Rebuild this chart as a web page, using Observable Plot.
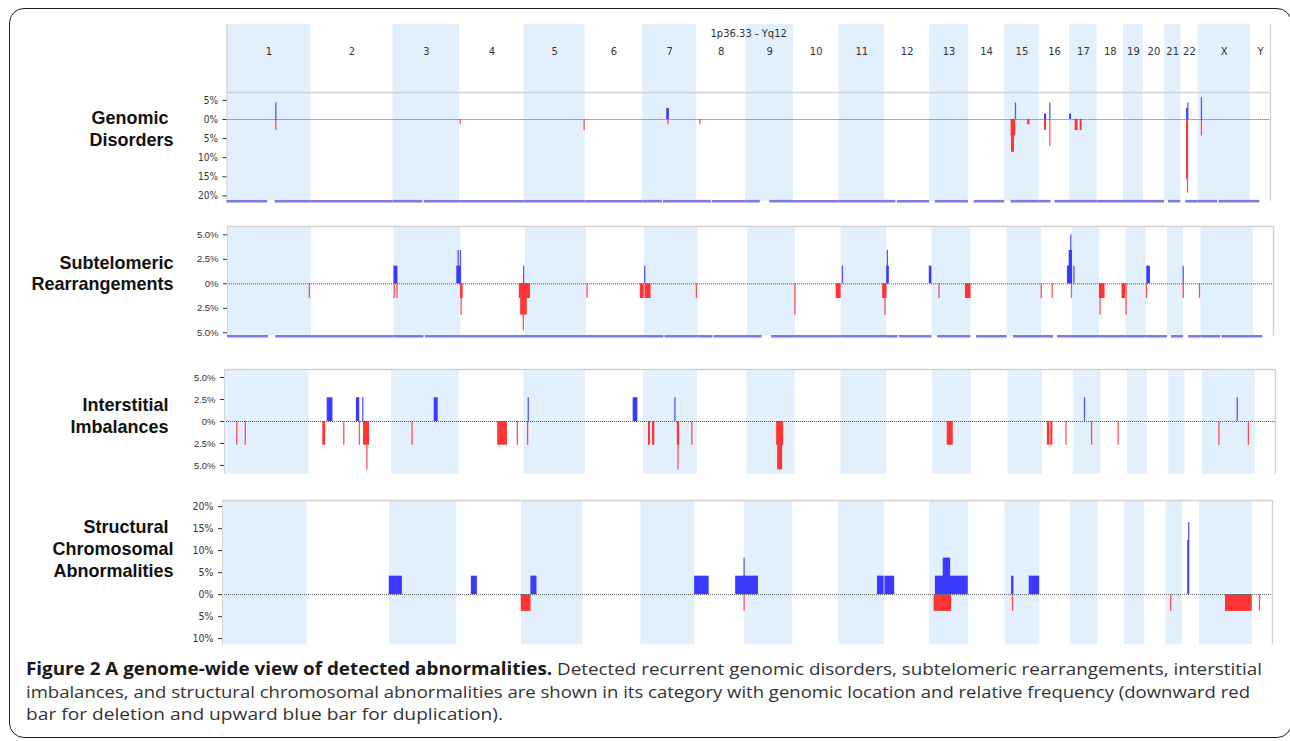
<!DOCTYPE html>
<html>
<head>
<meta charset="utf-8">
<script src="https://cdn.jsdelivr.net/npm/d3@7"></script>
<script src="https://cdn.jsdelivr.net/npm/@observablehq/plot@0.6"></script>
<style>
  html, body { margin: 0; padding: 0; background: #fff; }
  #fig { position: relative; width: 1290px; height: 741px; overflow: hidden; background: #fff; }
  #border { position: absolute; left: 9px; top: 8px; width: 1283px; height: 730px; box-sizing: border-box;
            border: 1.6px solid #1e1e1e; border-radius: 15px; }
  .panel { position: absolute; left: 0; }
  .panel svg { display: block; }
  #caption { position: absolute; left: 26px; top: 658px; font-family: "Open Sans", "Liberation Sans", sans-serif;
             font-size: 17px; line-height: 22.7px; color: #333; }
  #caption .cl { white-space: nowrap; height: 22.7px; }
  #caption .cl span { display: inline-block; transform-origin: 0 50%; }
  #caption b { color: #1a1a1a; font-weight: 700; }
</style>
</head>
<body>
<div id="fig">
  <div id="border"></div>
  <div id="caption"></div>
</div>
<script>
// ---------------- data ----------------
const chromNames = ["1","2","3","4","5","6","7","8","9","10","11","12","13","14","15","16","17","18","19","20","21","22","X","Y"];
const chromLengths = [249.3, 243.2, 198.0, 191.2, 180.9, 171.1, 159.1, 146.4, 141.2, 135.5, 135.0, 133.9,
                      115.2, 107.3, 102.5, 90.4, 81.2, 78.1, 59.1, 63.0, 48.1, 51.3, 155.3, 59.4];
const shadedChroms = ["1","3","5","7","9","11","13","15","17","19","21","X"];
// regions (Mb) left out of the ideogram strip: centromeres, short arms, heterochromatin
const ideogramGaps = [["1",121,143],["3",89,93],["7",58,61],["8",44,47],["9",43,71],["12",34,38],
                      ["13",0,17],["14",0,17],["15",0,19],["16",35,47],["21",0,12],["22",0,15],["X",58,62],["Y",28,59.4]];
const genomeLabel = "1p36.33 - Yq12";
const panelTitles = ["Genomic\u00a0\nDisorders", "Subtelomeric\nRearrangements", "Interstitial\nImbalances",
                     "Structural\u00a0\nChromosomal\nAbnormalities"];

// [chromosome, start Mb, end Mb, frequency %]  (+ duplication, - deletion)
const genomicDisorders = [
  ["1",145,145,4.3], ["1",145,145,-2.9],
  ["4",1.5,1.5,-1.4],
  ["5",178,178,-2.9],
  ["7",72,78,2.9], ["7",75,75,-1.4],
  ["8",10,10,-1.4],
  ["15",20,32,-4.3], ["15",21,28,-8.6], ["15",32,32,4.3], ["15",69,74,-1.4],
  ["16",16.6,20.8,1.4], ["16",16.6,20.8,-2.9], ["16",31.5,31.5,4.3], ["16",31.5,31.5,-7.1],
  ["17",0.5,4.5,1.4], ["17",17,24,-2.9], ["17",32,36,-2.9],
  ["22",18,21,2.9], ["22",21,21,4.3], ["22",18,21,-15.7], ["22",20,20,-19.3],
  ["X",10,10,5.7], ["X",10,10,-4.3]
];
const subtelomeric = [
  ["1",242,242,-1.5],
  ["3",1,11,1.8], ["3",1,1,-1.5], ["3",9,9,-1.5],
  ["3",187,198,1.8], ["3",190,190,3.4], ["3",197,197,3.4],
  ["4",0,6,-1.5], ["4",1,1,-3.2],
  ["4",186,186,1.8], ["4",174,191.2,-1.5], ["4",178,191.2,-3.2], ["4",185,185,-4.8],
  ["5",0,14,-1.5], ["5",0,4.5,-3.2],
  ["6",1.5,1.5,-1.5], ["6",160,170,-1.5],
  ["7",1,1,1.8], ["7",3,19,-1.5], ["7",154,154,-1.5],
  ["9",140,140,-3.2],
  ["10",122,135,-1.5],
  ["11",4,4,1.8], ["11",124,135,-1.5], ["11",130,130,-3.2],
  ["12",1,7,1.8], ["12",2,2,3.4], ["12",127,133,1.8],
  ["13",21,21,-1.5], ["13",100,115,-1.5],
  ["15",101,101,-1.5],
  ["16",31,31,-1.5], ["16",77,90.4,1.8], ["16",82,90,3.4], ["16",86,86,5.0], ["16",88,88,-1.5],
  ["17",5,5,1.8],
  ["18",0,15,-1.5], ["18",1,1,-3.2], ["18",67,76,-1.5], ["18",78,78,-3.2],
  ["20",1,1,-1.5], ["20",3,12,1.8],
  ["21",47,47,1.8], ["21",47,47,-1.5],
  ["22",47,47,-1.5]
];
const interstitial = [
  ["1",36,36,-2.7], ["1",61,61,-2.7],
  ["2",41,48,-2.7], ["2",54,69,2.7], ["2",102,102,-2.7], ["2",140,148,2.7], ["2",148,148,-2.7],
  ["2",158,158,2.7], ["2",161,177,-2.7], ["2",170,170,-5.5],
  ["3",60,60,-2.7], ["3",126,136,2.7],
  ["4",115,142,-2.7], ["4",172,172,-2.7],
  ["5",11,11,-2.7], ["5",13,13,2.7],
  ["6",142,154,2.7],
  ["7",16,20,-2.7], ["7",28,33,-2.7], ["7",93,93,2.7], ["7",101,106,-2.7], ["7",102,102,-5.5], ["7",143,143,-2.7],
  ["9",88,107,-2.7], ["9",91,104,-5.5],
  ["13",45,61,-2.7],
  ["16",15,21,-2.7], ["16",25,29.5,-2.7], ["16",69,69,-2.7],
  ["17",33,33,2.7], ["17",54,54,-2.7],
  ["18",51,51,-2.7],
  ["X",48,48,-2.7], ["X",102,102,2.7], ["X",135,135,-2.7]
];
const structural = [
  ["3",0,37,4.2],
  ["4",44,60,4.2],
  ["5",0,27,-3.8], ["5",28.5,44.5,4.2],
  ["8",0,41,4.2], ["8",121,146.4,4.2], ["9",0,40,4.2], ["8",145,145,8.3], ["8",145,145,-3.8],
  ["11",116,134,4.2], ["12",3,30,4.2],
  ["13",18,113,4.2], ["13",41,61,8.3], ["13",14,64,-3.8],
  ["15",20,25,4.2], ["15",22,22,-3.8], ["15",72,101,4.2],
  ["21",14,14,-3.8],
  ["22",17,20,12.3], ["22",19,19,16.4],
  ["X",77,154,-3.8],
  ["Y",21,21,-3.8]
];

const ticksGD = [5, 0, -5, -10, -15, -20];
const ticksST = [5, 2.5, 0, -2.5, -5];
const ticksII = [5, 2.5, 0, -2.5, -5];
const ticksSCA = [20, 15, 10, 5, 0, -5, -10];

const captionBold = "Figure 2 A genome-wide view of detected abnormalities.";
const captionLines = [
  " Detected recurrent genomic disorders, subtelomeric rearrangements, interstitial",
  "imbalances, and structural chromosomal abnormalities are shown in its category with genomic location and relative frequency (downward red",
  "bar for deletion and upward blue bar for duplication)."
];

// ---------------- geometry ----------------
const BLUE = "#3a3aff", RED = "#ff3535", BAND = "#e2effc", FRAME = "#d2d2d2";
const ends = d3.cumsum(chromLengths);
const chroms = chromNames.map((name, i) => ({name, start: ends[i] - chromLengths[i], end: ends[i], shaded: shadedChroms.includes(name)}));
const startOf = new Map(chroms.map(c => [c.name, c.start]));
const genomeLen = ends[ends.length - 1];

function toEvents(rows) {
  return rows.map(([c, s, e, v]) => ({x1: startOf.get(c) + s, x2: startOf.get(c) + e, v, thin: s === e}));
}
const segments = [];
for (const c of chroms) {
  const gs = ideogramGaps.filter(g => g[0] === c.name).map(g => [c.start + g[1], c.start + g[2]]).sort((a, b) => a[0] - b[0]);
  let cur = c.start;
  for (const [a, b] of gs) { if (a > cur) segments.push({x1: cur, x2: a}); cur = Math.max(cur, b); }
  if (cur < c.end) segments.push({x1: cur, x2: c.end});
}

const fig = document.getElementById("fig");
function place(svg, top) {
  const d = document.createElement("div");
  d.className = "panel";
  d.style.top = top + "px";
  d.appendChild(svg);
  fig.appendChild(d);
}

// ---------------- header (chromosome names) ----------------
{
  const L = 226.4, R = 1270, T = 24, B = 92.3, pad = 10;
  const svg = Plot.plot({
    width: 1290, height: (B - T) + pad, marginLeft: L, marginRight: 1290 - R, marginTop: pad, marginBottom: 0,
    x: {domain: [0, genomeLen], axis: null},
    style: {background: "transparent", overflow: "visible"},
    marks: [
      Plot.rect(chroms.filter(c => c.shaded), {x1: "start", x2: "end", fill: BAND}),
      Plot.ruleX([0, genomeLen], {stroke: FRAME, strokeWidth: 1.2}),
      Plot.text(chroms, {x: c => (c.start + c.end) / 2, text: "name", frameAnchor: "top", dy: 23,
        fontFamily: "DejaVu Sans, sans-serif", fontSize: 10, fill: "#333"}),
      Plot.text([genomeLabel], {x: () => genomeLen / 2, text: d => d, frameAnchor: "top", dy: 5,
        fontFamily: "DejaVu Sans, sans-serif", fontSize: 10, fill: "#333"})
    ]
  });
  place(svg, T - pad);
}

// ---------------- data panels ----------------
function panel({rows, domain, ticks, fmt, box: [L, R, T, B], title, titleDx, titleDy, ideogram, tickFont, tickSize}) {
  const pad = 14;
  const ev = toEvents(rows);
  const up = ev.filter(e => e.v > 0), dn = ev.filter(e => e.v < 0);
  const marks = [
    Plot.rect(chroms.filter(c => c.shaded), {x1: "start", x2: "end", fill: BAND}),
    Plot.rect(up.filter(e => !e.thin), {x1: "x1", x2: "x2", y1: 0, y2: "v", fill: BLUE, insetLeft: -0.3, insetRight: -0.3}),
    Plot.rect(dn.filter(e => !e.thin), {x1: "x1", x2: "x2", y1: 0, y2: "v", fill: RED, insetLeft: -0.3, insetRight: -0.3}),
    Plot.ruleX(up.filter(e => e.thin), {x: "x1", y1: 0, y2: "v", stroke: BLUE, strokeWidth: 1.3, strokeOpacity: 0.85}),
    Plot.ruleX(dn.filter(e => e.thin), {x: "x1", y1: 0, y2: "v", stroke: RED, strokeWidth: 1.3, strokeOpacity: 0.85}),
    Plot.ruleY([0], {stroke: "#555", strokeWidth: 1, strokeDasharray: "1,1"}),
    Plot.ruleY([domain[1]], {stroke: FRAME, strokeWidth: 1.6}),
    Plot.ruleX([0], {stroke: FRAME, strokeWidth: 1}),
    Plot.ruleX([genomeLen], {stroke: FRAME, strokeWidth: 1.4}),
    Plot.axisY(ticks, {tickFormat: fmt, tickSize: 4, tickPadding: 5, color: "#333", label: null,
      fontFamily: tickFont, fontSize: tickSize}),
    Plot.text([title], {text: d => d, frameAnchor: "top-left", dx: titleDx, dy: titleDy, textAnchor: "end",
      lineAnchor: "middle", lineHeight: 1.22, fontFamily: "Liberation Sans, Arial, sans-serif",
      fontSize: 18, fontWeight: "bold", fill: "#111"})
  ];
  if (ideogram) marks.push(Plot.ruleY(segments, {x1: "x1", x2: "x2", y: () => domain[0], stroke: "#7b7be6", strokeWidth: 2.6}));
  const svg = Plot.plot({
    width: 1290, height: (B - T) + 2 * pad, marginLeft: L, marginRight: 1290 - R, marginTop: pad, marginBottom: pad,
    x: {domain: [0, genomeLen], axis: null},
    y: {domain, axis: null, label: null},
    style: {background: "transparent", overflow: "visible"},
    marks
  });
  place(svg, T - pad);
}

const fmtInt = d => Math.abs(d) + "%";
const fmtDec = d => d === 0 ? "0%" : Math.abs(d).toFixed(1) + "%";
const condensed = "DejaVu Sans Condensed, DejaVu Sans, sans-serif";

panel({rows: genomicDisorders, domain: [-21.4, 7.07], ticks: ticksGD, fmt: fmtInt, box: [226.4, 1270, 92.3, 201],
  title: panelTitles[0], titleDx: -53.4, titleDy: 35.7, ideogram: true, tickFont: condensed, tickSize: 10});
panel({rows: subtelomeric, domain: [-5.36, 5.85], ticks: ticksST, fmt: fmtDec, box: [227, 1273, 225.7, 335.5],
  title: panelTitles[1], titleDx: -54, titleDy: 46, ideogram: true, tickFont: "Liberation Sans, Arial, sans-serif", tickSize: 9.5});
panel({rows: interstitial, domain: [-5.99, 5.91], ticks: ticksII, fmt: fmtDec, box: [224, 1275, 369, 473.7],
  title: panelTitles[2], titleDx: -56, titleDy: 45.3, ideogram: false, tickFont: "Liberation Sans, Arial, sans-serif", tickSize: 9.5});
panel({rows: structural, domain: [-11.4, 21.4], ticks: ticksSCA, fmt: fmtInt, box: [222, 1272, 500, 644.3],
  title: panelTitles[3], titleDx: -49, titleDy: 47.6, ideogram: false, tickFont: condensed, tickSize: 10.5});

// ---------------- caption ----------------
const cap = document.getElementById("caption");
const targets = [1236, 1224, 477];
captionLines.forEach((t, i) => {
  const line = document.createElement("div");
  line.className = "cl";
  const span = document.createElement("span");
  if (i === 0) {
    const b = document.createElement("b");
    b.textContent = captionBold;
    span.appendChild(b);
  }
  span.appendChild(document.createTextNode(t));
  line.appendChild(span);
  cap.appendChild(line);
  const w = span.getBoundingClientRect().width;
  if (w > 0) span.style.transform = `scaleX(${targets[i] / w})`;
});
</script>
</body>
</html>
